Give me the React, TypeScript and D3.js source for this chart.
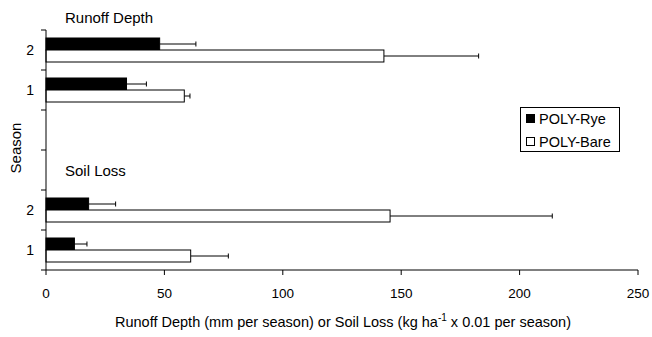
import React from "react";
import * as d3 from "d3";

const categories = ["R2", "R1", "gapA", "gapB", "S2", "S1"];
const categoryLabels: Record<string, string> = { R2: "2", R1: "1", gapA: "", gapB: "", S2: "2", S1: "1" };
const series = ["POLY-Rye", "POLY-Bare"];
const ryeValues: Record<string, number> = { R2: 48, R1: 34, S2: 18, S1: 12 };
const ryeErrors: Record<string, number> = { R2: 15.3, R1: 8.4, S2: 11.4, S1: 5.3 };
const bareValues: Record<string, number> = { R2: 142.7, R1: 58.4, S2: 145.3, S1: 61.1 };
const bareErrors: Record<string, number> = { R2: 40, R1: 2.4, S2: 68.5, S1: 15.9 };
const xTicks = [0, 50, 100, 150, 200, 250];

const W = 652;
const H = 337;
const font = "'Liberation Sans', Arial, sans-serif";

export default function App() {
  const x = d3.scaleLinear().domain([0, 250]).range([46, 638]);
  const y = d3.scaleBand<string>().domain(categories).range([30, 270]).padding(0);
  const yInner = d3
    .scaleBand<string>()
    .domain(series)
    .range([0, y.bandwidth()])
    .paddingInner(0)
    .paddingOuter(2 / 3);
  const bw = yInner.bandwidth();
  const bandEdges = categories.map((c) => y(c)!).concat([y.range()[1]]);

  const bars: React.ReactNode[] = [];
  categories.forEach((c) => {
    if (!(c in ryeValues)) return;
    const y0 = y(c)!;
    [
      { s: series[0], v: ryeValues[c], e: ryeErrors[c], fill: "#000" },
      { s: series[1], v: bareValues[c], e: bareErrors[c], fill: "#fff" },
    ].forEach(({ s, v, e, fill }) => {
      const by = y0 + yInner(s)!;
      const cy = by + bw / 2;
      bars.push(
        <g key={c + s}>
          <line x1={x(v)} x2={x(v + e)} y1={cy} y2={cy} stroke="#000" strokeWidth={1} />
          <line x1={x(v + e)} x2={x(v + e)} y1={cy - 2.5} y2={cy + 2.5} stroke="#000" strokeWidth={1} />
          <rect x={x(0)} y={by} width={x(v) - x(0)} height={bw} fill={fill} stroke="#000" strokeWidth={1} />
        </g>
      );
    });
  });

  return (
    <svg
      width={W}
      height={H}
      style={{ position: "absolute", left: 0, top: 0, background: "#fff" }}
      fontFamily={font}
    >
      <rect width={W} height={H} fill="#fff" />
      {bars}
      {/* y axis */}
      <line x1={x(0)} x2={x(0)} y1={30} y2={270} stroke="#000" strokeWidth={1} />
      {bandEdges.map((t, i) => (
        <line key={"yt" + i} x1={x(0) - 5} x2={x(0)} y1={t} y2={t} stroke="#000" strokeWidth={1} />
      ))}
      {categories.map((c) => (
        <text key={"yl" + c} x={34} y={y(c)! + y.bandwidth() / 2 + 5} textAnchor="end" fontSize={14}>
          {categoryLabels[c]}
        </text>
      ))}
      {/* x axis */}
      <line x1={x(0)} x2={x(250)} y1={270} y2={270} stroke="#000" strokeWidth={1} />
      {xTicks.map((t) => (
        <g key={"xt" + t}>
          <line x1={x(t)} x2={x(t)} y1={270} y2={275} stroke="#000" strokeWidth={1} />
          <text x={x(t)} y={298} textAnchor="middle" fontSize={13.5}>
            {t}
          </text>
        </g>
      ))}
      <text x={65} y={23} fontSize={15}>Runoff Depth</text>
      <text x={65} y={176} fontSize={15}>Soil Loss</text>
      <text x={343} y={327} textAnchor="middle" fontSize={14.5}>
        Runoff Depth (mm per season) or Soil Loss (kg ha
        <tspan dy={-6} fontSize={10}>-1</tspan>
        <tspan dy={6}> x 0.01 per season)</tspan>
      </text>
      <text transform="translate(21,148) rotate(-90)" textAnchor="middle" fontSize={15}>
        Season
      </text>
      {/* legend */}
      <rect x={520.5} y={107.5} width={99} height={44} fill="#fff" stroke="#000" strokeWidth={1} />
      <rect x={526.5} y={114.5} width={8} height={8} fill="#000" stroke="#000" strokeWidth={1} />
      <text x={539} y={124} fontSize={14.5}>{series[0]}</text>
      <rect x={526.5} y={137.5} width={8} height={8} fill="#fff" stroke="#000" strokeWidth={1} />
      <text x={539} y={147} fontSize={14.5}>{series[1]}</text>
    </svg>
  );
}
